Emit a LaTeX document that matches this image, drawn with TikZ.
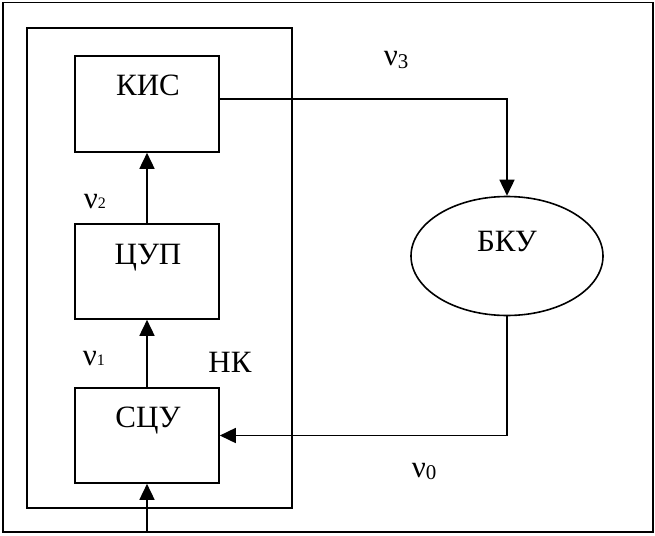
\documentclass[tikz,border=0pt]{standalone}
\usepackage{fontspec}
\setmainfont{Liberation Serif}
\usetikzlibrary{arrows.meta,shapes.geometric}
\begin{document}
\begin{tikzpicture}[x=1pt,y=-1pt, line width=1.6pt,
  blk/.style={draw, rectangle, minimum width=144pt, minimum height=95pt, inner sep=0pt},
  txt/.style={font=\fontsize{31}{36}\selectfont, inner sep=0pt, anchor=base},
  nu/.style={font=\fontsize{31}{36}\selectfont, inner sep=0pt, anchor=base west},
  arr/.style={-{Triangle[length=16pt,width=15pt]}}]
\useasboundingbox (0,0) rectangle (655,535);
% frames
\node[draw, rectangle, minimum width=650pt, minimum height=529pt, inner sep=0pt] (outer) at (327.7,267.2) {};
\node[draw, rectangle, minimum width=265pt, minimum height=480pt, inner sep=0pt] (nk) at (159.5,268) {};
% blocks
\node[blk, minimum height=96pt] (kis) at (147,104) {};
\node[blk] (cup) at (147,271.5) {};
\node[blk] (scu) at (147,435.5) {};
\node[draw, ellipse, minimum width=192pt, minimum height=119pt, inner sep=0pt] (bku) at (507,256) {};
% texts
\node[txt] (tkis) at (148,95) {КИС};
\node[txt] (tcup) at (148,264) {ЦУП};
\node[txt] (tscu) at (148,427) {СЦУ};
\node[txt] (tbku) at (507,251) {БКУ};
\node[txt] (tnk) at (230,372) {НК};
\node[nu] (nu3) at (383,66) {ν\fontsize{21}{24}\selectfont\raisebox{-2pt}{3}};
\node[nu] (nu2) at (83,208) {ν\fontsize{16}{18}\selectfont 2};
\node[nu] (nu1) at (82,365) {ν\fontsize{16}{18}\selectfont 1};
\node[nu] (nu0) at (411,477) {ν\fontsize{21}{24}\selectfont\raisebox{-2pt}{0}};
% connectors
\coordinate (kisout) at (219,99);
\draw[arr] (kisout) -| (bku.north);
\draw[arr] (bku.south) |- (scu.east);
\draw[arr] (cup.north) -- (kis.south);
\draw[arr] (scu.north) -- (cup.south);
\draw[arr] (scu.south |- outer.south) -- (scu.south);
\end{tikzpicture}
\end{document}
